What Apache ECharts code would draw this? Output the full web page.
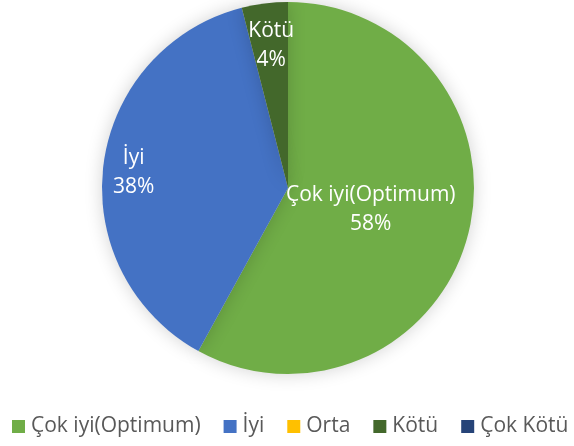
<!DOCTYPE html>
<html>
<head>
<meta charset="utf-8">
<script src="https://cdn.jsdelivr.net/npm/echarts@6/dist/echarts.min.js"></script>
<style>html,body{margin:0;padding:0;background:#fff;}#c{width:574px;height:446px;}</style>
</head>
<body>
<div id="c"></div>
<script>
const categories = ['Çok iyi(Optimum)', 'İyi', 'Orta', 'Kötü', 'Çok Kötü'];
const values = [58, 38, 0, 4, 0];
const colors = ['#70AD47', '#4472C4', '#FFC000', '#43682B', '#264478'];

// label placement (layout only): radial factor + small nudge
const labelRadiusFactor = [0.445, 0.81, 0.5, 0.78, 0.5];
const labelNudge = [[0, 0], [0, 4], [0, 0], [2, 6], [0, 0]];

const CX = 288, CY = 188, R = 186;

const chart = echarts.init(document.getElementById('c'), null, {renderer: 'canvas'});
const data = categories.map((name, i) => ({
  name: name,
  value: values[i],
  itemStyle: {color: colors[i]},
  label: {show: values[i] > 0}
}));

chart.setOption({
  animation: false,
  backgroundColor: '#fff',
  legend: {
    data: categories,
    left: 12,
    top: 416,
    width: 562,
    padding: 0,
    itemWidth: 13,
    itemHeight: 13,
    itemGap: 23,
    icon: 'rect',
    itemStyle: {shadowBlur: 0, shadowColor: 'transparent'},
    textStyle: {color: '#595959', fontSize: 21, fontFamily: 'Open Sans', padding: [0, 0, 0, 1]}
  },
  series: [{
    type: 'pie',
    center: [CX, CY],
    radius: [0, R],
    startAngle: 90,
    clockwise: true,
    percentPrecision: 0,
    data: data,
    itemStyle: {shadowBlur: 18, shadowColor: 'rgba(0,0,0,0.18)'},
    label: {
      position: 'inside',
      formatter: '{b}\n{d}%',
      color: '#fff',
      fontSize: 21,
      lineHeight: 29,
      fontFamily: 'Open Sans',
      align: 'center'
    },
    labelLine: {show: false},
    labelLayout: function (p) {
      const i = p.dataIndex;
      const f = labelRadiusFactor[i];
      const lx = p.labelRect.x + p.labelRect.width / 2;
      const ly = p.labelRect.y + p.labelRect.height / 2;
      const k = f / 0.5 - 1;
      return {dx: (lx - CX) * k + labelNudge[i][0], dy: (ly - CY) * k + labelNudge[i][1]};
    }
  }]
});
</script>
</body>
</html>
